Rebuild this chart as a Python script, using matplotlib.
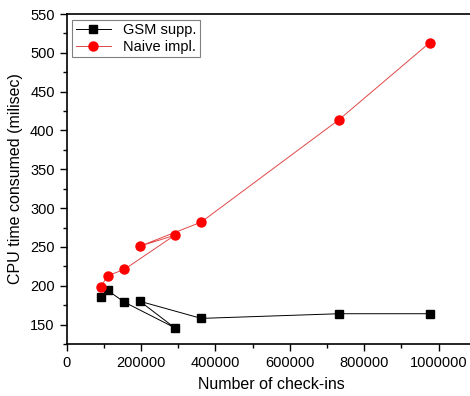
import matplotlib
matplotlib.use("Agg")
import matplotlib.pyplot as plt
from matplotlib.ticker import MultipleLocator, FormatStrFormatter

plt.rcParams['font.family'] = ['Liberation Sans', 'DejaVu Sans']

# data (kept in the original, unsorted order)
checkins = [92600, 110600, 155200, 290500, 197300, 361900, 732400, 975800]
gsm_supp = [186, 194, 179, 146, 180, 158, 164, 164]
naive_impl = [199, 213, 221, 265, 251, 282, 414, 513]

fig = plt.figure(figsize=(4.70, 3.96), dpi=100)
ax = fig.add_axes([0.1415, 0.1313, 0.871, 0.8333])

ax.plot(checkins, gsm_supp, color='black', lw=0.7, marker='s', ms=6,
        label='GSM supp.')
ax.plot(checkins, naive_impl, color='#e04848', lw=0.7, marker='o', ms=6.5,
        mfc='red', mec='red', label='Naive impl.')

ax.set_xlim(0, 1100000)
ax.set_ylim(125, 550)
ax.xaxis.set_major_locator(MultipleLocator(200000))
ax.xaxis.set_minor_locator(MultipleLocator(100000))
ax.xaxis.set_major_formatter(FormatStrFormatter('%d'))
ax.yaxis.set_major_locator(MultipleLocator(50))
ax.yaxis.set_minor_locator(MultipleLocator(25))
ax.tick_params(which='major', direction='out', length=5, width=1, labelsize=10.5)
ax.tick_params(which='minor', direction='out', length=3, width=1)
for s in ax.spines.values():
    s.set_linewidth(1.2)

ax.set_xlabel('Number of check-ins', fontsize=11.5, labelpad=5)
ax.set_ylabel('CPU time consumed (milisec)', fontsize=11.5, labelpad=5)

leg = ax.legend(loc='upper left', fontsize=10.5, fancybox=False, framealpha=1,
                edgecolor='#808080', borderaxespad=0.4, handlelength=2.4,
                borderpad=0.25, labelspacing=0.15)
leg.get_frame().set_linewidth(0.8)

fig.savefig('out.png', dpi=100)
